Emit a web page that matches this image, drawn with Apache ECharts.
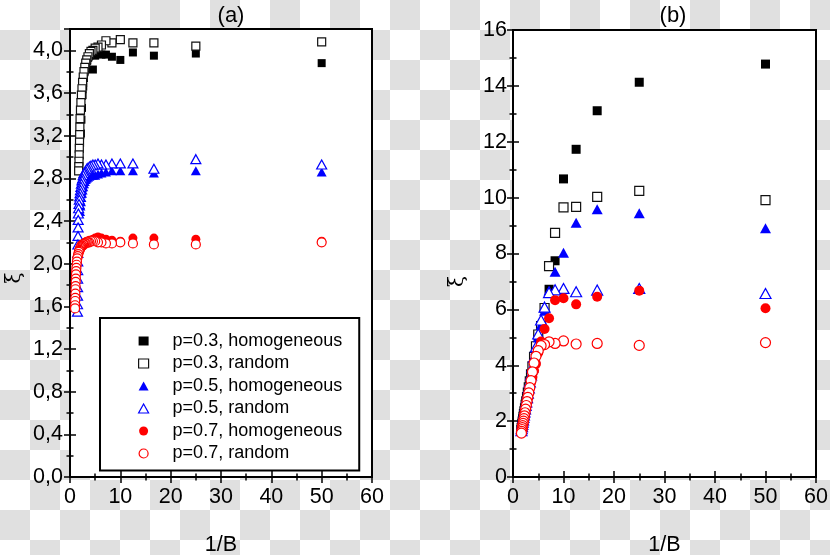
<!DOCTYPE html>
<html>
<head>
<meta charset="utf-8">
<script src="https://cdn.jsdelivr.net/npm/echarts@6/dist/echarts.min.js"></script>
<style>
html,body{margin:0;padding:0;}
body{width:830px;height:555px;background:repeating-conic-gradient(#e0e0e0 0 25%, #ffffff 0 50%) 0 0/60px 60px;}
#c{width:830px;height:555px;}
</style>
</head>
<body>
<div id="c"></div>
<script>
// ---- Panel (a) ----
const xA_p3h = [50, 25, 16.67, 12.5, 10, 8.33, 7.14, 6.25, 5.56, 5.0, 4.55, 4.17, 3.85, 3.57, 3.33, 3.13, 2.94, 2.78, 2.63, 2.5, 2.38, 2.27, 2.17];
const yA_p3h = [3.88, 3.97, 3.95, 3.98, 3.91, 3.94, 3.96, 3.96, 3.97, 3.95, 3.82, 3.96, 3.95, 3.93, 3.90, 3.86, 3.81, 3.74, 3.66, 3.58, 3.46, 3.35, 3.22];
const xA_p3r = [50, 25, 16.67, 12.5, 10, 8.33, 7.14, 6.25, 5.56, 5.0, 4.55, 4.17, 3.85, 3.57, 3.33, 3.13, 2.94, 2.78, 2.63, 2.5, 2.38, 2.27, 2.17, 2.08, 2.0, 1.96, 1.92, 1.89, 1.85, 1.82, 1.79, 1.75, 1.72];
const yA_p3r = [4.08, 4.04, 4.07, 4.07, 4.10, 4.07, 4.09, 4.05, 4.03, 4.02, 4.00, 3.99, 3.97, 3.94, 3.91, 3.88, 3.84, 3.80, 3.75, 3.70, 3.64, 3.58, 3.51, 3.44, 3.36, 3.28, 3.21, 3.14, 3.08, 3.02, 2.96, 2.91, 2.87];
const xA_p5h = [50, 25, 16.67, 12.5, 10, 8.33, 7.14, 6.25, 5.56, 5.0, 4.55, 4.17, 3.85, 3.57, 3.33, 3.13, 2.94, 2.78, 2.63, 2.5, 2.38, 2.27, 2.17, 2.08, 2.0];
const yA_p5h = [2.86, 2.87, 2.85, 2.87, 2.87, 2.87, 2.86, 2.85, 2.84, 2.83, 2.83, 2.83, 2.82, 2.81, 2.80, 2.79, 2.77, 2.75, 2.72, 2.69, 2.66, 2.62, 2.58, 2.54, 2.49];
const xA_p5r = [50, 25, 16.67, 12.5, 10, 8.33, 7.14, 6.25, 5.56, 5.0, 4.55, 4.17, 3.85, 3.57, 3.33, 3.13, 2.94, 2.78, 2.63, 2.5, 2.38, 2.27, 2.17, 2.08, 2.0, 1.92, 1.85, 1.79, 1.72, 1.67, 1.63, 1.61, 1.59, 1.57, 1.56, 1.54, 1.53, 1.52, 1.51, 1.50, 1.49, 1.48];
const yA_p5r = [2.93, 2.98, 2.89, 2.94, 2.94, 2.94, 2.93, 2.93, 2.94, 2.93, 2.93, 2.92, 2.91, 2.90, 2.89, 2.87, 2.86, 2.85, 2.83, 2.80, 2.78, 2.75, 2.72, 2.69, 2.66, 2.63, 2.60, 2.56, 2.52, 2.47, 2.41, 2.34, 2.26, 2.18, 2.10, 2.02, 1.94, 1.86, 1.78, 1.70, 1.62, 1.55];
const xA_p7h = [50, 25, 16.67, 12.5, 10, 8.33, 7.14, 6.25, 5.56, 5.0, 4.55, 4.17, 3.85, 3.57, 3.33, 3.13, 2.94, 2.78, 2.63, 2.5, 2.38, 2.27, 2.17, 2.08, 2.0, 1.92, 1.85, 1.75, 1.65, 1.55, 1.45, 1.38, 1.32, 1.27, 1.23, 1.19, 1.16, 1.13];
const yA_p7h = [2.21, 2.23, 2.24, 2.24, 2.21, 2.22, 2.23, 2.24, 2.25, 2.24, 2.23, 2.22, 2.22, 2.21, 2.21, 2.20, 2.20, 2.19, 2.19, 2.18, 2.18, 2.17, 2.17, 2.16, 2.15, 2.14, 2.13, 2.12, 2.10, 2.08, 2.06, 2.03, 2.00, 1.97, 1.94, 1.91, 1.87, 1.84];
const xA_p7r = [50, 25, 16.67, 12.5, 10, 8.33, 7.14, 6.25, 5.56, 5.0, 4.55, 4.17, 3.85, 3.57, 3.33, 3.13, 2.94, 2.78, 2.63, 2.5, 2.38, 2.27, 2.17, 2.08, 2.0, 1.92, 1.85, 1.75, 1.65, 1.55, 1.45, 1.38, 1.32, 1.27, 1.23, 1.19, 1.16, 1.13, 1.11, 1.09, 1.07, 1.05, 1.03, 1.01, 1.0];
const yA_p7r = [2.20, 2.18, 2.18, 2.19, 2.20, 2.19, 2.19, 2.20, 2.20, 2.21, 2.21, 2.21, 2.20, 2.20, 2.20, 2.19, 2.19, 2.18, 2.18, 2.17, 2.17, 2.16, 2.16, 2.15, 2.14, 2.13, 2.12, 2.11, 2.09, 2.07, 2.05, 2.02, 1.99, 1.96, 1.93, 1.90, 1.86, 1.83, 1.79, 1.76, 1.72, 1.68, 1.65, 1.61, 1.58];

// ---- Panel (b) ----
const xB = [50, 25, 16.67, 12.5, 10, 8.33, 7.14, 6.25, 5.56, 5.0, 4.55, 4.17, 3.85, 3.57, 3.33, 3.13, 2.94, 2.78, 2.63, 2.5, 2.38, 2.27, 2.17, 2.08, 2.0, 1.92, 1.85, 1.79, 1.72, 1.67];
const yB_p3h = [14.78, 14.13, 13.11, 11.73, 10.67, 7.74, 6.72, 6.05, 5.32, 5.02, 4.62, 4.25, 3.92, 3.64, 3.39, 3.18, 3.00, 2.84, 2.70, 2.57, 2.45, 2.34, 2.24, 2.14, 2.05, 1.97, 1.89, 1.81, 1.74, 1.67];
const yB_p3r = [9.91, 10.24, 10.03, 9.67, 9.65, 8.74, 7.55, 6.05, 5.40, 5.10, 4.68, 4.30, 3.96, 3.67, 3.42, 3.21, 3.02, 2.86, 2.71, 2.58, 2.46, 2.35, 2.25, 2.15, 2.06, 1.98, 1.90, 1.82, 1.75, 1.68];
const yB_p5h = [8.90, 9.44, 9.58, 9.10, 8.03, 7.35, 6.68, 5.95, 5.45, 5.00, 4.55, 4.18, 3.86, 3.58, 3.34, 3.14, 2.96, 2.80, 2.66, 2.53, 2.41, 2.30, 2.20, 2.11, 2.02, 1.94, 1.86, 1.79, 1.72, 1.65];
const yB_p5r = [6.57, 6.75, 6.69, 6.63, 6.75, 6.70, 6.60, 6.08, 5.62, 5.12, 4.66, 4.28, 3.94, 3.65, 3.40, 3.19, 3.00, 2.84, 2.69, 2.56, 2.44, 2.33, 2.22, 2.13, 2.04, 1.96, 1.88, 1.80, 1.73, 1.66];
const yB_p7h = [6.04, 6.67, 6.45, 6.18, 6.40, 6.33, 5.68, 5.30, 4.85, 4.45, 4.05, 3.80, 3.58, 3.38, 3.18, 3.00, 2.85, 2.70, 2.57, 2.44, 2.32, 2.21, 2.11, 2.02, 1.94, 1.86, 1.79, 1.72, 1.65, 1.59];
const yB_p7r = [4.81, 4.71, 4.78, 4.76, 4.87, 4.78, 4.84, 4.74, 4.70, 4.52, 4.32, 4.08, 3.76, 3.45, 3.20, 3.01, 2.85, 2.70, 2.56, 2.43, 2.30, 2.19, 2.09, 2.00, 1.92, 1.84, 1.77, 1.70, 1.63, 1.57];

const names = ['p=0.3, homogeneous', 'p=0.3, random', 'p=0.5, homogeneous', 'p=0.5, random', 'p=0.7, homogeneous', 'p=0.7, random'];
const xTicks = [0, 10, 20, 30, 40, 50, 60];

const zip = (xs, ys) => xs.map((x, i) => [x, ys[i]]);
const FONT = 'Liberation Sans, Arial, sans-serif';

const styles = [
  {symbol: 'rect', sa: 8, sb: 9, itemStyle: {color: '#000', borderWidth: 0, opacity: 1}},
  {symbol: 'rect', sa: 8, sb: 9, itemStyle: {color: '#fff', borderColor: '#111', borderWidth: 1.2, opacity: 1}},
  {symbol: 'triangle', sa: [10, 9], sb: [11, 10], itemStyle: {color: '#0000ff', borderWidth: 0, opacity: 1}},
  {symbol: 'triangle', sa: [10, 9], sb: [11, 10], itemStyle: {color: '#fff', borderColor: '#0000ff', borderWidth: 1.2, opacity: 1}},
  {symbol: 'circle', sa: 9, sb: 10, itemStyle: {color: '#ff0000', borderWidth: 0, opacity: 1}},
  {symbol: 'circle', sa: 9, sb: 10, itemStyle: {color: '#fff', borderColor: '#ff0000', borderWidth: 1.2, opacity: 1}}
];

const dataA = [zip(xA_p3h, yA_p3h), zip(xA_p3r, yA_p3r), zip(xA_p5h, yA_p5h), zip(xA_p5r, yA_p5r), zip(xA_p7h, yA_p7h), zip(xA_p7r, yA_p7r)];
const dataB = [zip(xB, yB_p3h), zip(xB, yB_p3r), zip(xB, yB_p5h), zip(xB, yB_p5r), zip(xB, yB_p7h), zip(xB, yB_p7r)];

const series = [];
names.forEach((n, i) => {
  series.push({type: 'scatter', name: n, xAxisIndex: 0, yAxisIndex: 0, symbol: styles[i].symbol, symbolSize: styles[i].sa,
    itemStyle: styles[i].itemStyle, data: dataA[i], emphasis: {disabled: true}});
});
names.forEach((n, i) => {
  series.push({type: 'scatter', name: n, xAxisIndex: 2, yAxisIndex: 2, symbol: styles[i].symbol, symbolSize: styles[i].sb,
    itemStyle: styles[i].itemStyle, data: dataB[i], emphasis: {disabled: true}});
});

const lineS = {show: true, lineStyle: {color: '#000', width: 2}};
const tickS = {show: true, inside: true, length: 6, lineStyle: {color: '#000', width: 1.5}};
const minorS = {show: true, splitNumber: 2, length: 3.5, lineStyle: {color: '#000', width: 1.5}};
const labelS = {color: '#000', fontSize: 21.5, fontFamily: FONT};

function xAx(grid, pos, withLabel) {
  const a = {type: 'value', gridIndex: grid, position: pos, min: 0, max: 60, interval: 10,
    axisLine: lineS, axisTick: tickS, minorTick: minorS, splitLine: {show: false},
    axisLabel: withLabel ? Object.assign({margin: 9, formatter: v => xTicks.includes(v) ? String(v) : ''}, labelS) : {show: false}};
  if (withLabel) {
    a.name = '1/B'; a.nameLocation = 'middle'; a.nameGap = 57;
    a.nameTextStyle = {color: '#000', fontSize: 21.5, fontFamily: FONT};
  }
  return a;
}
function yAx(grid, pos, withLabel, max, interval, fmt, margin, shift) {
  const a = {type: 'value', gridIndex: grid, position: pos, min: 0, max: max, interval: interval,
    axisLine: lineS, axisTick: tickS, minorTick: minorS, splitLine: {show: false},
    axisLabel: withLabel ? Object.assign({margin: margin, formatter: fmt}, labelS) : {show: false}};
  if (withLabel) {
    a.name = 'ξ'; a.nameLocation = 'middle'; a.nameGap = 45; a.nameRotate = 90;
    a.nameTextStyle = {color: '#000', fontSize: 20, fontFamily: 'DejaVu Serif, serif', padding: [0, shift, 0, 0]};
  }
  return a;
}
const fmtA = v => Math.abs(v / 0.4 - Math.round(v / 0.4)) < 1e-6 ? v.toFixed(1).replace('.', ',') : '';
const fmtB = v => (v % 2 === 0 ? String(v) : '');

const option = {
  animation: false,
  backgroundColor: 'transparent',
  title: [
    {text: '(a)', left: 226, top: 0, textAlign: 'center', textStyle: {color: '#000', fontSize: 22, fontWeight: 'normal', fontFamily: FONT}},
    {text: '(b)', left: 668, top: 0, textAlign: 'center', textStyle: {color: '#000', fontSize: 22, fontWeight: 'normal', fontFamily: FONT}}
  ],
  grid: [
    {left: 70, top: 29, width: 302, height: 448, show: true, backgroundColor: '#fff', borderColor: '#000', borderWidth: 2, outerBoundsMode: 'none', containLabel: false},
    {left: 513, top: 30, width: 303, height: 447, show: true, backgroundColor: '#fff', borderColor: '#000', borderWidth: 2, outerBoundsMode: 'none', containLabel: false}
  ],
  xAxis: [xAx(0, 'bottom', true), xAx(0, 'top', false), xAx(1, 'bottom', true), xAx(1, 'top', false)],
  yAxis: [
    yAx(0, 'left', true, 4.2, 0.4, fmtA, 7, 50), yAx(0, 'right', false, 4.2, 0.4),
    yAx(1, 'left', true, 16, 2, fmtB, 6, 56), yAx(1, 'right', false, 16, 2)
  ],
  legend: {
    orient: 'vertical', left: 100, top: 318,
    padding: [14, 17, 8, 38],
    itemGap: 4.5, itemWidth: 10, itemHeight: 9,
    symbolKeepAspect: true,
    backgroundColor: '#fff', borderColor: '#000', borderWidth: 2,
    selectedMode: false,
    textStyle: {color: '#000', fontSize: 18, lineHeight: 18, fontFamily: FONT, padding: [0, 0, 0, 19]},
    data: names.map((n, i) => ({name: n, icon: styles[i].symbol, itemStyle: Object.assign({}, styles[i].itemStyle)}))
  },
  series: series
};

const chart = echarts.init(document.getElementById('c'), null, {renderer: 'canvas'});
chart.setOption(option);
</script>
</body>
</html>
